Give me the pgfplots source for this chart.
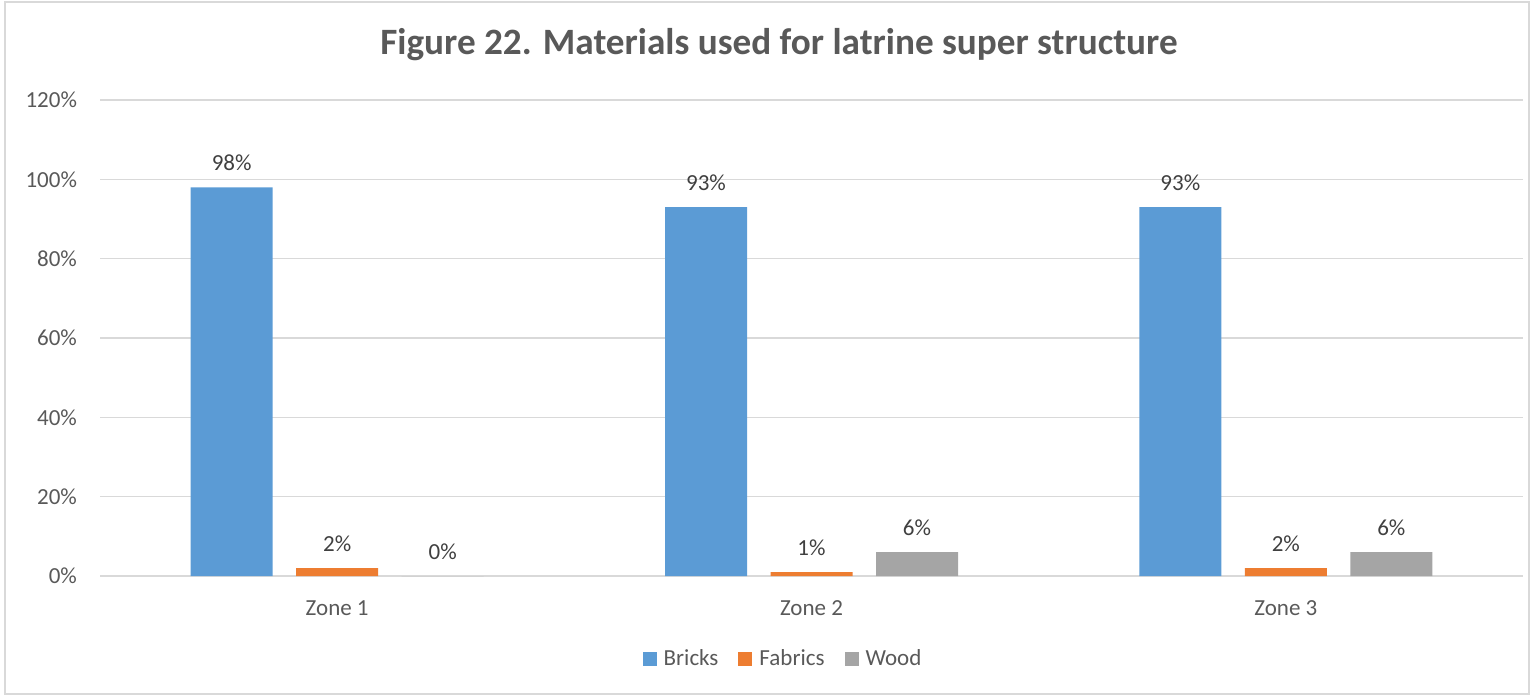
\documentclass[border=0pt]{standalone}
\usepackage{fontspec}
\setmainfont{Carlito}
\usepackage{pgfplots}
\pgfplotsset{compat=1.18}
\definecolor{bricks}{HTML}{5B9BD5}
\definecolor{fabrics}{HTML}{ED7D31}
\definecolor{wood}{HTML}{A5A5A5}
\definecolor{gridc}{HTML}{D9D9D9}
\definecolor{txt}{HTML}{595959}
\definecolor{lbl}{HTML}{404040}
\begin{document}
\begin{tikzpicture}
\useasboundingbox (-50pt,-60.5pt) rectangle (717pt,288pt);
\draw[gridc, line width=0.75pt] (-47.5pt,-59pt) rectangle (714.5pt,287pt);
\begin{axis}[
  at={(0pt,0pt)}, anchor=south west,
  scale only axis, width=711.5pt, height=238pt,
  ybar=11.75pt, bar width=41pt,
  xmin=-0.5, xmax=2.5, ymin=0, ymax=120,
  xtick={0,1,2}, xticklabels={Zone 1,Zone 2,Zone 3},
  ytick={0,20,40,60,80,100,120},
  yticklabel={\pgfmathprintnumber{\tick}\%},
  /pgf/number format/assume math mode=true,
  axis x line*=bottom, axis y line*=left,
  x axis line style={draw=gridc, line width=0.75pt},
  y axis line style={draw=none},
  major tick length=0pt,
  ymajorgrids, grid style={gridc, line width=0.75pt},
  tick label style={font=\fontsize{11.5}{14}\selectfont, text=txt},
  xticklabel style={anchor=base, yshift=-19.5pt},
  yticklabel style={anchor=east, xshift=-8pt},
  nodes near coords={\pgfmathprintnumber{\pgfplotspointmeta}\%},
  nodes near coords style={font=\fontsize{11.5}{14}\selectfont, text=lbl, anchor=base, yshift=8.3pt},
  legend style={at={(0.4807,-0.174)}, anchor=center, draw=none, fill=none,
    font=\fontsize{11.5}{14}\selectfont, text=txt,
    /tikz/every odd column/.append style={column sep=1.5pt},
    /tikz/every even column/.append style={column sep=8pt}},
  legend columns=3,
  legend image code/.code={\fill[#1,draw=none] (0pt,-3.5pt) rectangle (7pt,3.5pt);},
  clip=false,
]
\addplot[fill=bricks, draw=none] coordinates {(0,98) (1,93) (2,93)};
\addplot[fill=fabrics, draw=none] coordinates {(0,2) (1,1) (2,2)};
\addplot[fill=wood, draw=none] coordinates {(0,0) (1,6) (2,6)};
\legend{Bricks,Fabrics,Wood}
\end{axis}
\node[font=\bfseries\fontsize{18.6}{22}\selectfont, text=txt] at (339.5pt,265.5pt) {Figure 22. Materials used for latrine super structure};
\end{tikzpicture}
\end{document}
